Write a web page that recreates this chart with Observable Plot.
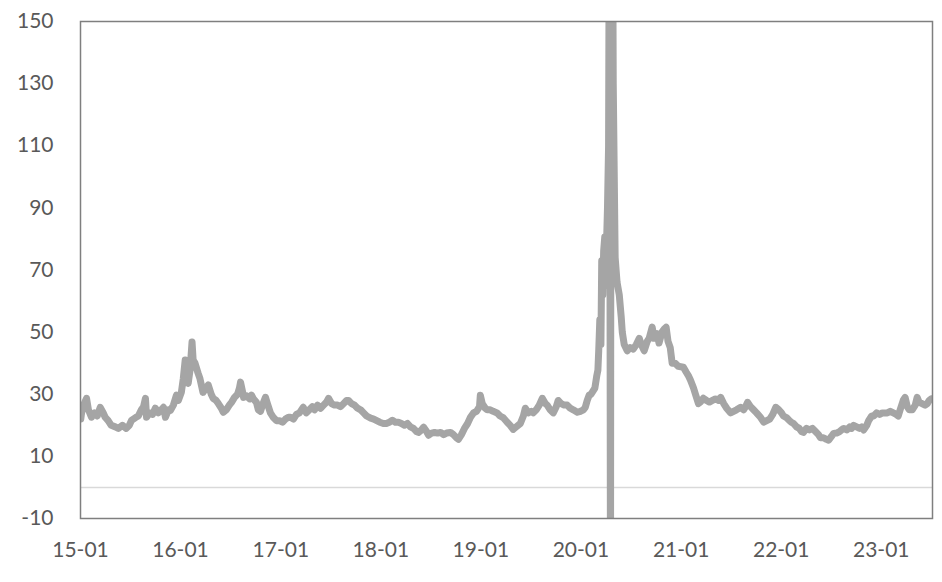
<!DOCTYPE html>
<html>
<head>
<meta charset="utf-8">
<script src="https://cdn.jsdelivr.net/npm/d3@7"></script>
<script src="https://cdn.jsdelivr.net/npm/@observablehq/plot@0.6"></script>
<style>
  html, body { margin: 0; padding: 0; background: #fff; }
  #chart { width: 942px; height: 582px; }
</style>
</head>
<body>
<div id="chart"></div>
<script>
// Dates and values
const dates = [
 "2015-01-02","2015-01-05","2015-01-12","2015-01-23","2015-01-30","2015-02-10","2015-02-21","2015-03-03","2015-03-14","2015-03-25",
 "2015-04-01","2015-04-12","2015-04-23","2015-05-08","2015-05-19","2015-06-03","2015-06-17","2015-06-28","2015-07-06","2015-07-21",
 "2015-07-31","2015-08-11","2015-08-19","2015-08-26","2015-08-30","2015-09-10","2015-09-21","2015-10-01","2015-10-12","2015-10-23",
 "2015-10-31","2015-11-07","2015-11-18","2015-11-25","2015-12-06","2015-12-17","2015-12-24",
 "2016-01-04","2016-01-11","2016-01-18","2016-01-22","2016-01-29","2016-02-05","2016-02-12","2016-02-16","2016-02-23","2016-03-05",
 "2016-03-12","2016-03-23","2016-04-03","2016-04-11","2016-04-22","2016-04-29","2016-05-10","2016-05-18","2016-05-29","2016-06-05",
 "2016-06-16","2016-06-27","2016-07-05","2016-07-16","2016-07-27","2016-08-03","2016-08-07","2016-08-14","2016-08-18","2016-08-29",
 "2016-09-09","2016-09-16","2016-09-23","2016-10-04","2016-10-11","2016-10-19","2016-10-26","2016-11-06","2016-11-13","2016-11-24",
 "2016-12-05","2016-12-16","2016-12-27",
 "2017-01-07","2017-01-18","2017-01-29","2017-02-05","2017-02-16","2017-02-27","2017-03-10","2017-03-24","2017-04-04","2017-04-15",
 "2017-04-26","2017-05-04","2017-05-15","2017-05-26","2017-06-06","2017-06-17","2017-06-24","2017-07-05","2017-07-16","2017-07-27",
 "2017-08-07","2017-08-18","2017-08-29","2017-09-05","2017-09-16","2017-09-27","2017-10-08","2017-10-19","2017-10-30","2017-11-10",
 "2017-11-25","2017-12-06","2017-12-17","2017-12-28",
 "2018-01-10","2018-01-21","2018-02-01","2018-02-12","2018-02-23","2018-03-06","2018-03-17","2018-03-28","2018-04-08","2018-04-19",
 "2018-04-30","2018-05-11","2018-05-18","2018-05-29","2018-06-06","2018-06-17","2018-06-24","2018-07-05","2018-07-16","2018-07-27",
 "2018-08-07","2018-08-18","2018-08-29","2018-09-12","2018-09-23","2018-10-04","2018-10-11","2018-10-22","2018-11-02","2018-11-13",
 "2018-11-24","2018-12-05","2018-12-16","2018-12-27","2018-12-30",
 "2019-01-06","2019-01-17","2019-01-24","2019-02-04","2019-02-15","2019-03-01","2019-03-12","2019-03-23","2019-04-07","2019-04-18",
 "2019-04-29","2019-05-10","2019-05-25","2019-06-05","2019-06-12","2019-06-23","2019-07-04","2019-07-11","2019-07-22","2019-08-02",
 "2019-08-13","2019-08-24","2019-08-31","2019-09-11","2019-09-22","2019-10-03","2019-10-10","2019-10-21","2019-11-01","2019-11-12",
 "2019-11-23","2019-12-04","2019-12-19","2019-12-30",
 "2020-01-10","2020-01-17","2020-01-24","2020-01-31","2020-02-07","2020-02-14","2020-02-21","2020-02-28","2020-03-03","2020-03-06",
 "2020-03-10","2020-03-14","2020-03-17","2020-03-21","2020-03-24","2020-03-28","2020-03-31","2020-04-04","2020-04-07","2020-04-11",
 "2020-04-14","2020-04-18","2020-04-21","2020-04-28","2020-05-05","2020-05-12","2020-05-20","2020-05-27","2020-05-31","2020-06-07",
 "2020-06-18","2020-06-29","2020-07-10","2020-07-21","2020-08-01","2020-08-08","2020-08-19","2020-08-30","2020-09-06","2020-09-17",
 "2020-09-24","2020-10-05","2020-10-12","2020-10-23","2020-10-31","2020-11-07","2020-11-14","2020-11-22","2020-11-29","2020-12-10",
 "2020-12-21",
 "2021-01-09","2021-01-20","2021-01-27","2021-02-04","2021-02-15","2021-02-22","2021-03-05","2021-03-12","2021-03-23","2021-04-03",
 "2021-04-14","2021-04-25","2021-05-06","2021-05-17","2021-05-25","2021-06-05","2021-06-16","2021-06-30","2021-07-11","2021-07-22",
 "2021-08-06","2021-08-17","2021-08-24","2021-08-31","2021-09-11","2021-09-22","2021-10-03","2021-10-18","2021-10-29","2021-11-09",
 "2021-11-20","2021-12-01","2021-12-12","2021-12-23",
 "2022-01-02","2022-01-09","2022-01-20","2022-01-31","2022-02-07","2022-02-15","2022-02-26","2022-03-08","2022-03-16","2022-03-23",
 "2022-04-03","2022-04-14","2022-04-25","2022-05-06","2022-05-17","2022-05-24","2022-06-04","2022-06-15","2022-06-23","2022-07-04",
 "2022-07-11","2022-07-22","2022-08-02","2022-08-09","2022-08-17","2022-08-28","2022-09-08","2022-09-15","2022-09-22","2022-10-03",
 "2022-10-14","2022-10-22","2022-10-29","2022-11-09","2022-11-16","2022-11-27","2022-12-04","2022-12-15","2022-12-26",
 "2023-01-05","2023-01-16","2023-01-23","2023-02-03","2023-02-14","2023-02-25","2023-03-04","2023-03-11","2023-03-22","2023-03-29",
 "2023-04-06","2023-04-13","2023-04-24","2023-05-05","2023-05-12","2023-05-19","2023-05-30","2023-06-10","2023-06-18","2023-06-25",
 "2023-07-02"
];
const values = [
 22,24,26.5,28.7,25,22.6,24,23,25.8,24,
 22.6,21.5,20,19.5,19,20,19,20,21.6,22.5,
 23,25,26,28.7,22.6,24,23.5,25.5,24,25,
 25.8,22.6,25,24.8,26.5,29.7,28,
 30.6,35,41,36,33.5,38,46.8,41,40,36.8,
 35,30.6,32,33,30,28.7,28,27,25.5,24.2,
 25,26.5,27.4,29,30,32,33.9,31,29,29.5,
 28.5,29.7,28.5,27.4,25,24.5,26.5,29,27,24,
 22.5,21.5,21.5,
 21,22,22.6,22.6,22,23.5,24,25.8,24,25,
 26,25,26.5,25.5,26.5,27.5,28.7,27,26.5,26.5,
 26,27,28,28,27,26.5,25.5,25,24,23,
 22.3,22,21.5,21,
 20.6,20.6,21,21.6,21,21,20.6,20,20.6,19.5,
 19,18,17.7,18.5,19.4,18,16.8,17.5,17.7,17.5,
 17.7,17,17.5,17.7,17,16,15.5,17,19,20.5,
 22.6,24,24.5,26,29.7,
 27,25.5,25,25,24.5,24,23,22.5,21,20,
 18.7,19.5,20.6,23,25.5,24,24.5,24,25,26.5,
 28.7,27,26.5,25,24,26,28,27,26.5,26.5,
 25.5,25,24.2,24.5,
 25,25.8,28,29.7,30,31,32,36,37.7,44,
 54,46,73,62,76,80.6,65,80,90,110,
 200,-40,300,130,74,66,62,55,50,46,
 44,45,44.5,46,48,46,44,47,48,51.6,
 48,49.5,46.5,50,51,51.6,47,45,40,40,
 39,
 38.7,37,36,34.5,32,30,27,27.5,28.7,28,
 27.5,28,28.5,28,29,27,25.5,24,24.5,25,
 25.8,25,26,27.4,26,25,24,22.5,21,21.5,
 22,23.5,25.8,25,
 24,23,22.5,21.5,21,20.6,19.5,19,18,17.7,
 19,18.5,19,18,17,16,16,15.5,15.2,16.5,
 17.4,17.5,18,18.5,19,18.5,19.5,19,20,19.5,
 19,19.5,18.5,20,21.5,23,23,24,23.5,
 24,24,24,24.5,24,23.5,23,25,28,29,
 26,25,25,26.5,29,27.5,27,26.5,27,28,
 28.5
];
const yTicks = [-10, 10, 30, 50, 70, 90, 110, 130, 150];
const xTickYears = ["2015-01-01","2016-01-01","2017-01-01","2018-01-01","2019-01-01","2020-01-01","2021-01-01","2022-01-01","2023-01-01"];

const parse = d3.utcParse("%Y-%m-%d");
const data = dates.map((d, i) => ({date: parse(d), value: values[i]}));
const xTicks = xTickYears.map(parse);

const chart = Plot.plot({
  width: 942,
  height: 582,
  marginTop: 21,
  marginBottom: 64,
  marginLeft: 80,
  marginRight: 10,
  style: {fontFamily: "Lato, 'Open Sans', sans-serif", fontSize: "21px", color: "#595959", background: "#fff"},
  x: {type: "utc", domain: [parse("2015-01-01"), parse("2023-07-07")]},
  y: {domain: [-10, 150]},
  marks: [
    Plot.ruleY([0], {stroke: "#d9d9d9", strokeWidth: 1.5}),
    Plot.line(data, {x: "date", y: "value", stroke: "#a5a5a5", strokeWidth: 7, strokeLinejoin: "round", strokeLinecap: "round", clip: true}),
    Plot.frame({stroke: "#7f7f7f", strokeWidth: 1.5}),
    Plot.axisY({ticks: yTicks, tickSize: 0, tickPadding: 27, label: null, tickFormat: d => String(d), fill: "#595959", fontSize: 21}),
    Plot.axisX({ticks: xTicks, tickSize: 0, tickPadding: 24, label: null, tickFormat: d3.utcFormat("%y-%m"), fill: "#595959", fontSize: 21})
  ]
});
document.getElementById("chart").appendChild(chart);
</script>
</body>
</html>
